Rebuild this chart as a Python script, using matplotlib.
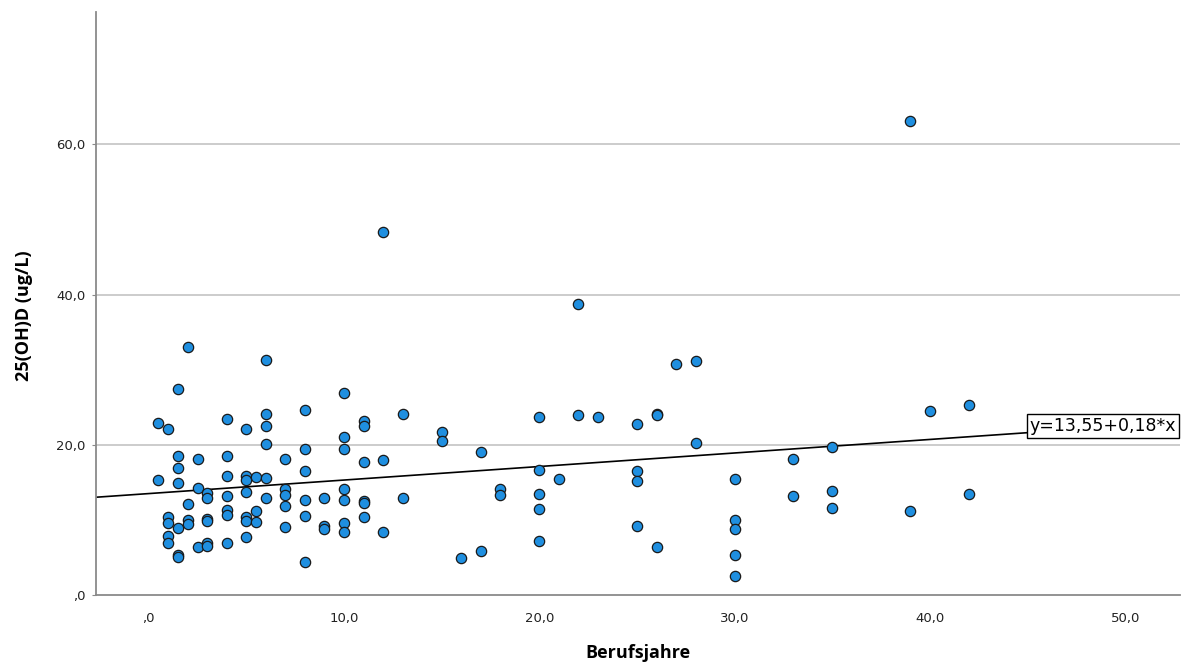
import matplotlib
matplotlib.use("Agg")
import matplotlib.pyplot as plt

# Berufsjahre (x) and 25(OH)D in ug/L (y)
berufsjahre = [
    0.5, 0.5,
    1, 1, 1, 1, 1,
    1.5, 1.5, 1.5, 1.5, 1.5, 1.5, 1.5,
    2, 2, 2, 2,
    2.5, 2.5, 2.5,
    3, 3, 3, 3, 3, 3,
    4, 4, 4, 4, 4, 4, 4,
    5, 5, 5, 5, 5, 5, 5,
    5.5, 5.5, 5.5,
    6, 6, 6, 6, 6, 6,
    7, 7, 7, 7, 7,
    8, 8, 8, 8, 8, 8,
    9, 9, 9,
    10, 10, 10, 10, 10, 10, 10,
    11, 11, 11, 11, 11, 11,
    12, 12, 12,
    13, 13,
    15, 15,
    16,
    17, 17,
    18, 18,
    20, 20, 20, 20, 20,
    21,
    22, 22,
    23,
    25, 25, 25, 25,
    26, 26, 26,
    27,
    28, 28,
    30, 30, 30, 30, 30,
    33, 33,
    35, 35, 35,
    39, 39,
    40,
    42, 42,
]
vit_d = [
    23.0, 15.3,
    22.2, 10.4, 9.7, 7.9, 7.0,
    27.4, 18.5, 17.0, 14.9, 9.0, 5.4, 5.1,
    33.0, 12.2, 10.0, 9.5,
    18.2, 14.3, 6.4,
    13.6, 13.0, 10.2, 9.9, 7.0, 6.6,
    23.5, 18.6, 15.9, 13.2, 11.4, 10.7, 7.0,
    22.2, 15.9, 15.4, 13.7, 10.5, 9.9, 7.8,
    15.7, 11.2, 9.8,
    31.3, 24.2, 22.6, 20.1, 15.6, 13.0,
    18.2, 14.1, 13.3, 11.9, 9.1,
    24.7, 19.5, 16.5, 12.7, 10.6, 4.4,
    13.0, 9.2, 8.9,
    26.9, 21.1, 19.5, 14.1, 12.7, 9.6, 8.4,
    23.2, 22.5, 17.7, 12.5, 12.3, 10.4,
    48.4, 18.0, 8.4,
    24.2, 12.9,
    21.8, 20.5,
    5.0,
    19.1, 5.9,
    14.2, 13.3,
    23.7, 16.7, 13.5, 11.5, 7.3,
    15.5,
    38.8, 24.0,
    23.7,
    22.8, 16.5, 15.2, 9.2,
    24.2, 24.0, 6.5,
    30.8,
    31.2, 20.3,
    15.5, 10.0, 8.9, 5.4, 2.6,
    18.2, 13.2,
    19.7, 13.9, 11.6,
    63.1, 11.2,
    24.5,
    25.3, 13.5,
]

# linear fit from the SPSS output
intercept = 13.55
slope = 0.18
fit_end = 45

x_ticks = [0, 10, 20, 30, 40, 50]
y_ticks = [0, 20, 40, 60]

def fmt(v):
    # SPSS style: comma decimal, no leading zero for 0
    s = ("%.1f" % v).replace(".", ",")
    if s.startswith("0,"):
        s = s[1:]
    return s

fig = plt.figure(figsize=(11.84, 6.64), dpi=100)
ax = fig.add_axes([0.0807, 0.1032, 0.9159, 0.8788])

xmin, xmax = -2.72, 52.8
ax.set_xlim(xmin, xmax)
ax.set_ylim(0, 77.6)

for yv in y_ticks[1:]:
    ax.axhline(yv, color="#c8c8c8", lw=1.3, zorder=1)

ax.plot([xmin, fit_end], [intercept + slope * xmin, intercept + slope * fit_end],
        color="black", lw=1.2, zorder=2)
ax.text(fit_end + 0.1, intercept + slope * fit_end - 0.3, "y=13,55+0,18*x",
        fontsize=12.5, family="DejaVu Sans", ha="left", va="bottom", zorder=4,
        bbox=dict(boxstyle="square,pad=0.15", fc="white", ec="black", lw=1))

ax.scatter(berufsjahre, vit_d, s=55, c="#1f8fe0", edgecolors="#1a1a1a",
           linewidths=0.9, zorder=3)

for side in ["top", "right"]:
    ax.spines[side].set_visible(False)
for side in ["left", "bottom"]:
    ax.spines[side].set_color("#8a8a8a")
    ax.spines[side].set_linewidth(1.3)

ax.set_xticks(x_ticks)
ax.set_xticklabels([fmt(v) for v in x_ticks])
ax.set_yticks(y_ticks)
ax.set_yticklabels([fmt(v) for v in y_ticks])
ax.tick_params(axis="x", length=0, pad=12, labelsize=9.5, labelcolor="#222222")
ax.tick_params(axis="y", length=3, color="#8a8a8a", pad=4, labelsize=9.5,
               labelcolor="#222222")

ax.set_xlabel("Berufsjahre", fontsize=13, fontweight="bold", family="Open Sans")
ax.set_ylabel("25(OH)D (ug/L)", fontsize=13, fontweight="bold", family="Open Sans")
ax.xaxis.set_label_coords(0.5, -0.083)
ax.yaxis.set_label_coords(-0.058, 0.48)

fig.savefig("out.png", dpi=100)
